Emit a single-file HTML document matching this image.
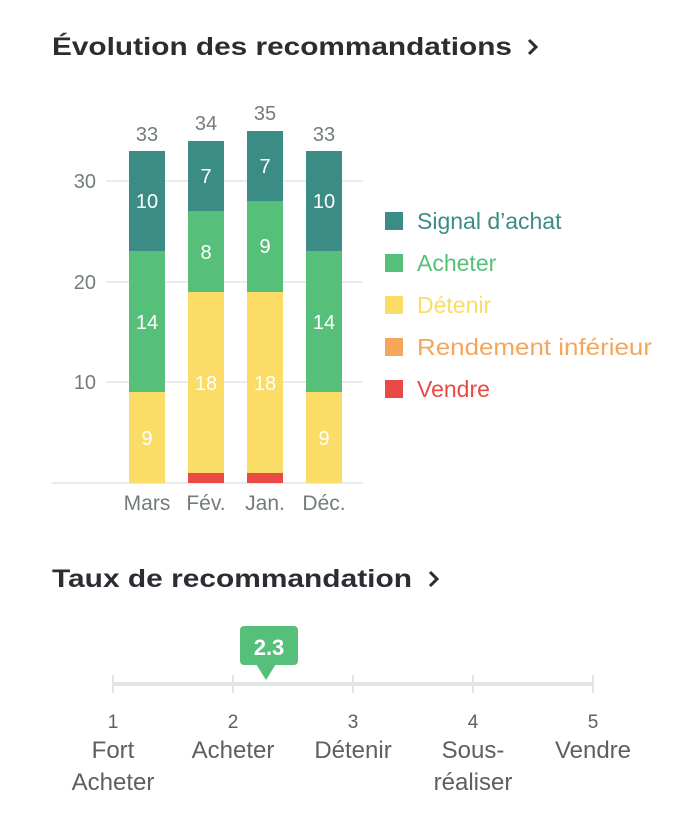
<!DOCTYPE html>
<html><head><meta charset="utf-8"><style>
html,body{margin:0;padding:0;background:#fff;}
svg{display:block;font-family:"Liberation Sans",sans-serif;}
</style></head><body>
<svg width="680" height="838" viewBox="0 0 680 838" xmlns="http://www.w3.org/2000/svg">
<text x="52" y="55" font-size="25" font-weight="bold" fill="#2a2d32" textLength="460" lengthAdjust="spacingAndGlyphs">Évolution des recommandations</text>
<path d="M529 40 L536 47 L529 54" stroke="#2a2d32" stroke-width="3" fill="none"/>
<g stroke="#e2e6e5" stroke-width="1.5">
<line x1="106" y1="181" x2="363" y2="181"/><line x1="106" y1="282" x2="363" y2="282"/><line x1="106" y1="382" x2="363" y2="382"/><line x1="52" y1="483" x2="363" y2="483"/>
</g>
<g font-size="20" fill="#747b7e" text-anchor="end">
<text x="96" y="188">30</text><text x="96" y="289">20</text><text x="96" y="389">10</text>
</g>
<rect x="129" y="392" width="36" height="91" fill="#fadc66"/>
<rect x="129" y="251" width="36" height="141" fill="#56c07b"/>
<rect x="129" y="151" width="36" height="100" fill="#3b8c84"/>
<rect x="188" y="473" width="36" height="10" fill="#ea4a45"/>
<rect x="188" y="292" width="36" height="181" fill="#fadc66"/>
<rect x="188" y="211" width="36" height="81" fill="#56c07b"/>
<rect x="188" y="141" width="36" height="70" fill="#3b8c84"/>
<rect x="247" y="473" width="36" height="10" fill="#ea4a45"/>
<rect x="247" y="292" width="36" height="181" fill="#fadc66"/>
<rect x="247" y="201" width="36" height="91" fill="#56c07b"/>
<rect x="247" y="131" width="36" height="70" fill="#3b8c84"/>
<rect x="306" y="392" width="36" height="91" fill="#fadc66"/>
<rect x="306" y="251" width="36" height="141" fill="#56c07b"/>
<rect x="306" y="151" width="36" height="100" fill="#3b8c84"/>
<g font-size="20" fill="#fff" text-anchor="middle">
<text x="147" y="208">10</text><text x="147" y="329">14</text><text x="147" y="445">9</text>
<text x="206" y="183">7</text><text x="206" y="259">8</text><text x="206" y="390">18</text>
<text x="265" y="173">7</text><text x="265" y="253">9</text><text x="265" y="390">18</text>
<text x="324" y="208">10</text><text x="324" y="329">14</text><text x="324" y="445">9</text>
</g>
<g font-size="20" fill="#747b7e" text-anchor="middle">
<text x="147" y="141">33</text><text x="206" y="130">34</text><text x="265" y="120">35</text><text x="324" y="141">33</text>
</g>
<g font-size="21" fill="#747b7e" text-anchor="middle">
<text x="147" y="510">Mars</text><text x="206" y="510">Fév.</text><text x="265" y="510">Jan.</text><text x="324" y="510">Déc.</text>
</g>
<g font-size="23">
<rect x="385" y="212" width="18" height="18" fill="#3b8c84"/><text x="417" y="229" fill="#3b8c84">Signal d’achat</text>
<rect x="385" y="254" width="18" height="18" fill="#56c07b"/><text x="417" y="271" fill="#56c07b">Acheter</text>
<rect x="385" y="296" width="18" height="18" fill="#fadc66"/><text x="417" y="313" fill="#fadc66">Détenir</text>
<rect x="385" y="338" width="18" height="18" fill="#f5a65b"/><text x="417" y="355" fill="#f5a65b" textLength="235" lengthAdjust="spacingAndGlyphs">Rendement inférieur</text>
<rect x="385" y="380" width="18" height="18" fill="#ea4a45"/><text x="417" y="397" fill="#ea4a45">Vendre</text>
</g>
<text x="52" y="587" font-size="25" font-weight="bold" fill="#2a2d32" textLength="360" lengthAdjust="spacingAndGlyphs">Taux de recommandation</text>
<path d="M430 572 L437 579 L430 586" stroke="#2a2d32" stroke-width="3" fill="none"/>
<g stroke="#e2e6e5">
<line x1="113" y1="684" x2="593" y2="684" stroke-width="4"/>
<g stroke-width="2"><line x1="113" y1="675" x2="113" y2="693"/><line x1="233" y1="675" x2="233" y2="693"/><line x1="353" y1="675" x2="353" y2="693"/><line x1="473" y1="675" x2="473" y2="693"/><line x1="593" y1="675" x2="593" y2="693"/></g>
</g>
<rect x="240" y="626" width="58" height="39" rx="4" fill="#56c07b"/>
<path d="M256 664 L266 680 L276 664 Z" fill="#56c07b"/>
<text x="269" y="655" font-size="22" font-weight="bold" fill="#fff" text-anchor="middle">2.3</text>
<g font-size="24" fill="#5a6063" text-anchor="middle">
<text x="113" y="728" font-size="19">1</text><text x="233" y="728" font-size="19">2</text><text x="353" y="728" font-size="19">3</text><text x="473" y="728" font-size="19">4</text><text x="593" y="728" font-size="19">5</text>
<text x="113" y="758">Fort</text><text x="113" y="790">Acheter</text>
<text x="233" y="758">Acheter</text>
<text x="353" y="758">Détenir</text>
<text x="473" y="758">Sous-</text><text x="473" y="790">réaliser</text>
<text x="593" y="758">Vendre</text>
</g>
</svg>
</body></html>
